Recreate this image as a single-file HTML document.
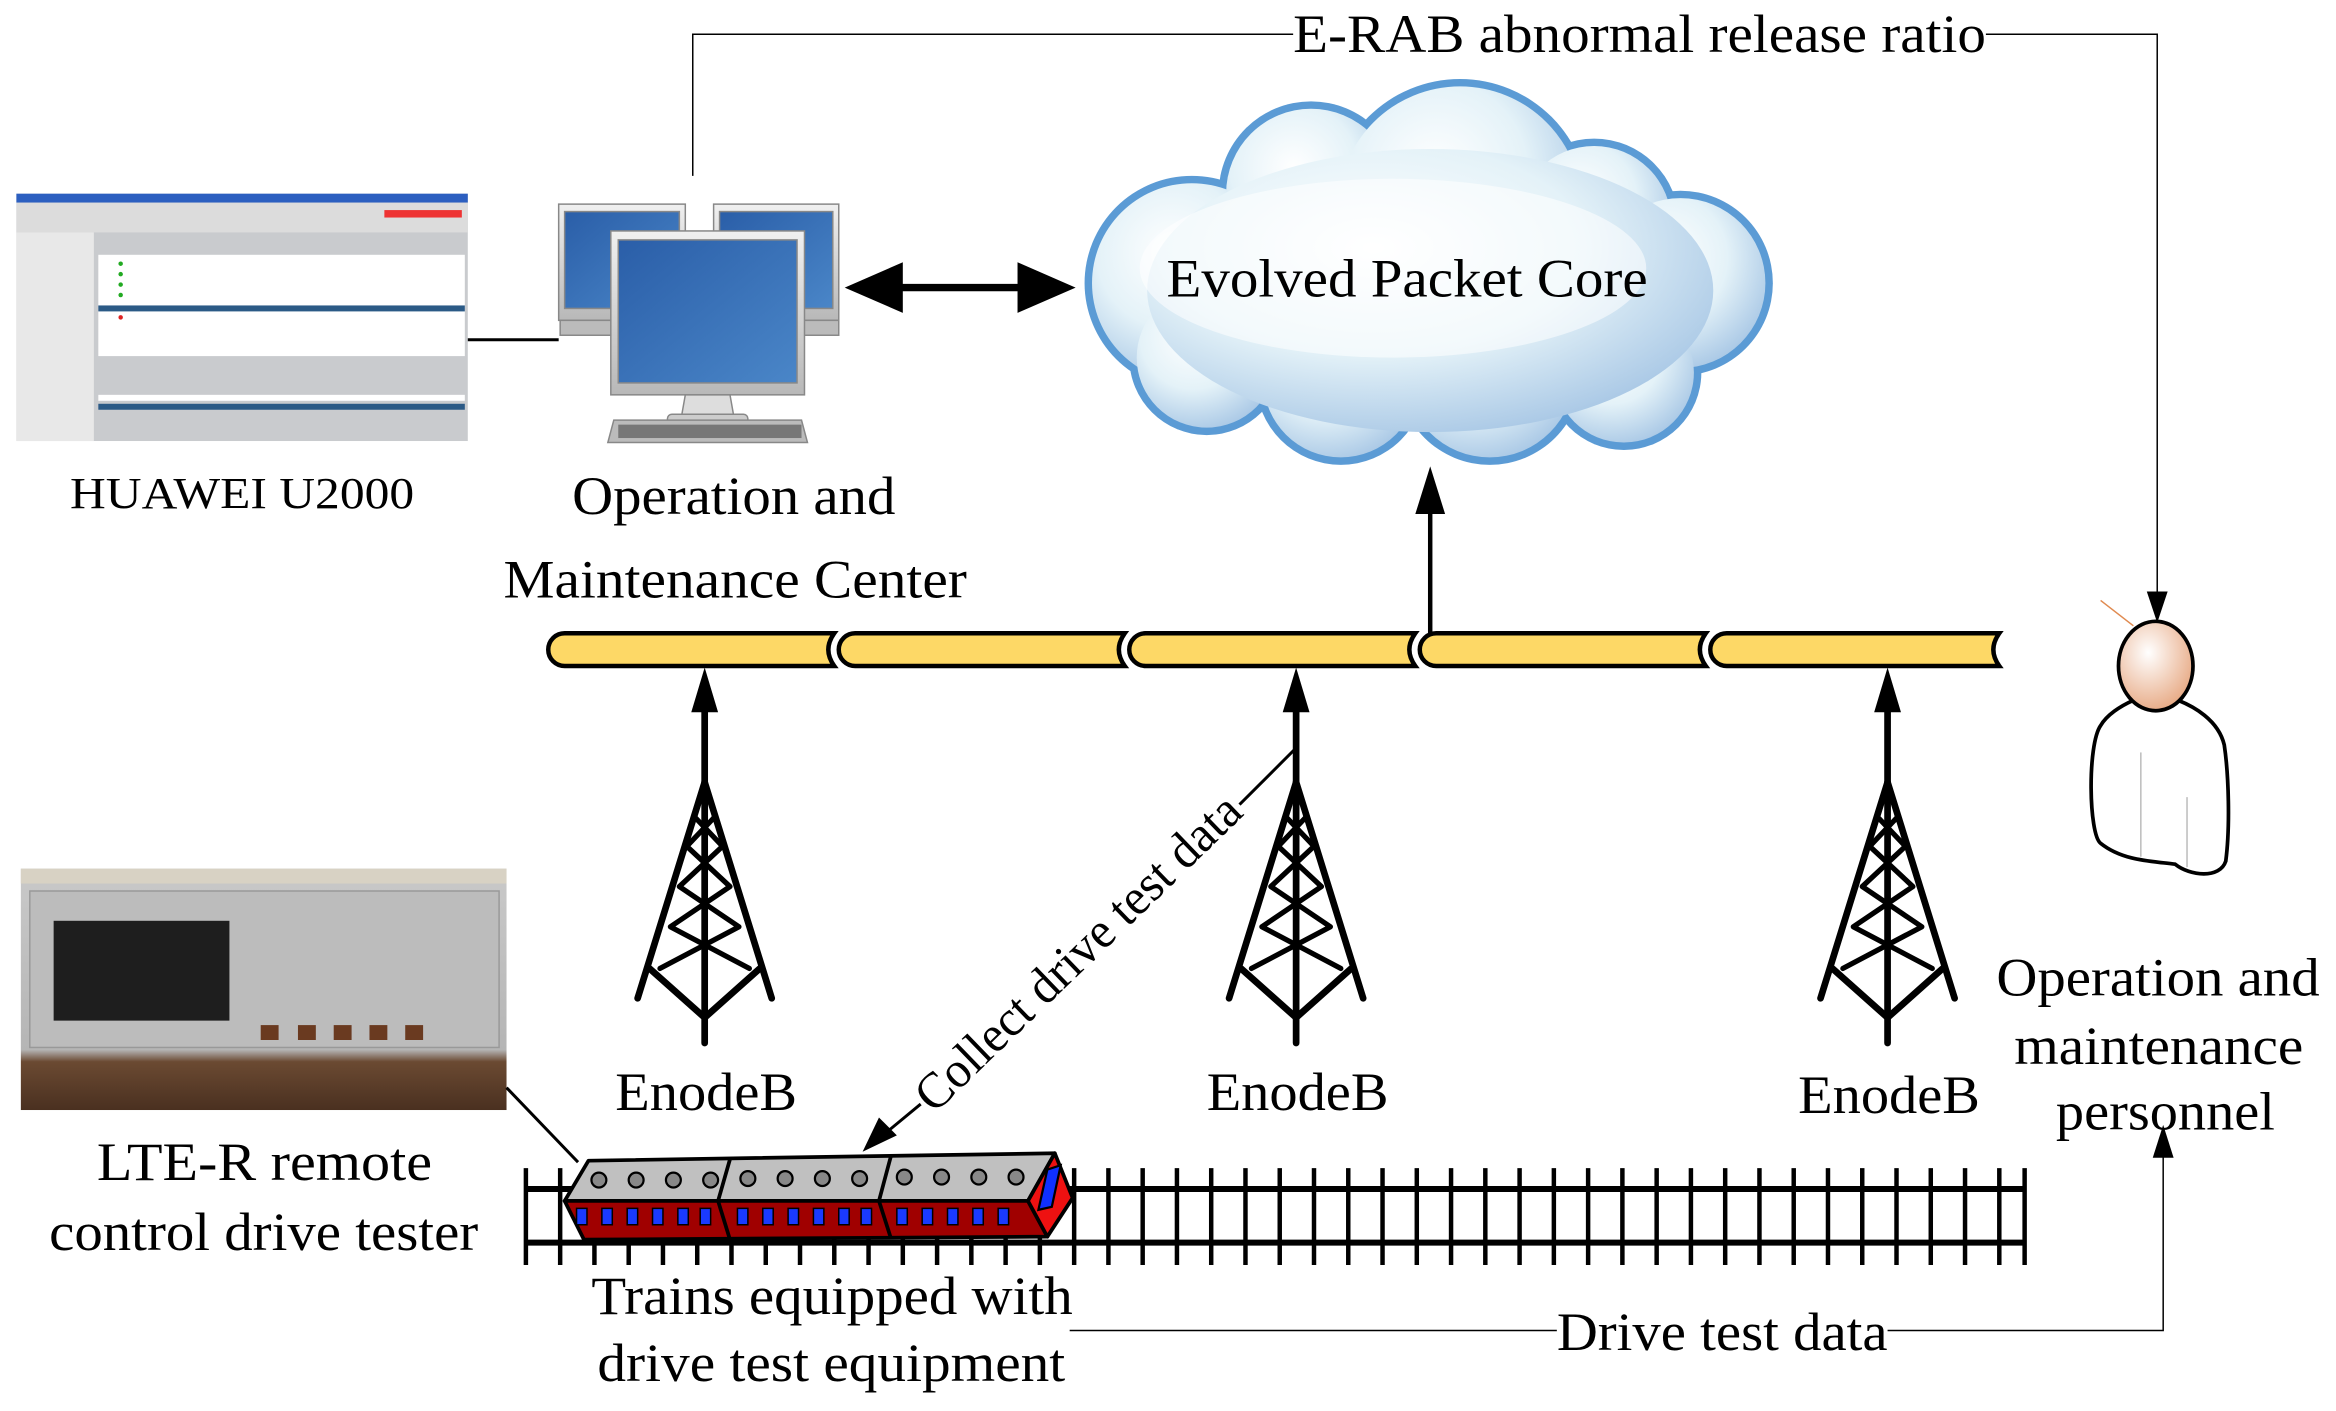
<!DOCTYPE html>
<html><head><meta charset="utf-8"><style>
html,body{margin:0;padding:0;background:#fff;}
svg{display:block;}
text{font-family:"Liberation Serif",serif;fill:#000;}
</style></head><body>
<svg width="2336" height="1411" viewBox="0 0 1568 947" preserveAspectRatio="none" xmlns="http://www.w3.org/2000/svg">
<defs>
<radialGradient id="cg" cx="0.4" cy="0.35" r="0.75">
<stop offset="0" stop-color="#ffffff"/><stop offset="0.5" stop-color="#e4f2f8"/><stop offset="1" stop-color="#9ec0e2"/></radialGradient>
<linearGradient id="scr" x1="0" y1="0" x2="1" y2="1"><stop offset="0" stop-color="#2a5ea8"/><stop offset="1" stop-color="#4a86c8"/></linearGradient>
<linearGradient id="bz" x1="0" y1="0" x2="0" y2="1"><stop offset="0" stop-color="#f0f0f0"/><stop offset="1" stop-color="#b8b8b8"/></linearGradient>
<radialGradient id="hd" cx="0.4" cy="0.35" r="0.8"><stop offset="0" stop-color="#fff"/><stop offset="1" stop-color="#e39a6e"/></radialGradient>
<linearGradient id="ph" x1="0" y1="0" x2="0" y2="1"><stop offset="0" stop-color="#c9c9c9"/><stop offset="0.75" stop-color="#b5b5b5"/><stop offset="0.8" stop-color="#6b4a32"/><stop offset="1" stop-color="#4a3020"/></linearGradient>
</defs>

<polyline points="465,118 465,23 868,23" fill="none" stroke="#000" stroke-width="1"/>
<polyline points="1333,23 1448,23 1448,398" fill="none" stroke="#000" stroke-width="1"/>
<polygon points="1441,397 1455,397 1448,418" fill="#000"/>
<text x="868" y="35" font-size="36" textLength="465" lengthAdjust="spacingAndGlyphs">E-RAB abnormal release ratio</text>

<rect x="11" y="130" width="303" height="166" fill="#c9cbce"/>
<rect x="11" y="130" width="303" height="6" fill="#2c5fc0"/>
<rect x="11" y="136" width="303" height="20" fill="#dcdcdc"/>
<rect x="258" y="141" width="52" height="5" fill="#e33"/>
<rect x="11" y="156" width="52" height="140" fill="#e8e8e8"/>
<rect x="66" y="171" width="246" height="68" fill="#fff"/>
<rect x="66" y="205" width="246" height="4" fill="#2b5a86"/>
<g fill="#2a2"><circle cx="81" cy="177" r="1.5"/><circle cx="81" cy="184" r="1.5"/><circle cx="81" cy="191" r="1.5"/><circle cx="81" cy="198" r="1.5"/></g>
<circle cx="81" cy="213" r="1.5" fill="#d22"/>
<rect x="66" y="265" width="246" height="4" fill="#fff"/>
<rect x="66" y="271" width="246" height="4" fill="#2b5a86"/>

<line x1="314" y1="228" x2="375" y2="228" stroke="#000" stroke-width="2"/>
<text x="47" y="341" font-size="30" textLength="231" lengthAdjust="spacingAndGlyphs">HUAWEI U2000</text>

<g stroke="#888" stroke-width="1">
<rect x="375" y="137" width="85" height="78" fill="url(#bz)"/>
<rect x="379" y="142" width="77" height="65" fill="url(#scr)"/>
<rect x="376" y="215" width="52" height="10" fill="#bbb"/>
<rect x="479" y="137" width="84" height="78" fill="url(#bz)"/>
<rect x="483" y="142" width="76" height="65" fill="url(#scr)"/>
<rect x="515" y="215" width="48" height="10" fill="#bbb"/>
<rect x="410" y="155" width="130" height="110" fill="url(#bz)"/>
<rect x="415" y="161" width="120" height="96" fill="url(#scr)"/>
<path d="M460,265 L490,265 L493,282 L457,282 Z" fill="#ddd"/>
<rect x="448" y="278" width="54" height="7" rx="3" fill="#ccc"/>
<path d="M412,282 L538,282 L542,297 L408,297 Z" fill="#bbb"/>
</g>
<rect x="415" y="285" width="123" height="9" fill="#777"/>

<line x1="590" y1="193" x2="700" y2="193" stroke="#000" stroke-width="5"/>
<polygon points="567,193 606,176 606,210" fill="#000"/>
<polygon points="722,193 683,176 683,210" fill="#000"/>

<text x="384" y="345" font-size="36" textLength="217" lengthAdjust="spacingAndGlyphs">Operation and</text>
<text x="338" y="401" font-size="36" textLength="311" lengthAdjust="spacingAndGlyphs">Maintenance Center</text>

<g fill="#5b9bd5">
<circle cx="800" cy="190" r="72"/><circle cx="880" cy="130" r="62"/><circle cx="980" cy="140" r="87"/>
<circle cx="1070" cy="150" r="57"/><circle cx="1128" cy="190" r="62"/><circle cx="1090" cy="250" r="52"/>
<circle cx="1000" cy="250" r="62"/><circle cx="900" cy="255" r="57"/><circle cx="810" cy="240" r="52"/>
</g>
<g fill="url(#cg)">
<circle cx="800" cy="190" r="67"/><circle cx="880" cy="130" r="57"/><circle cx="980" cy="140" r="82"/>
<circle cx="1070" cy="150" r="52"/><circle cx="1128" cy="190" r="57"/><circle cx="1090" cy="250" r="47"/>
<circle cx="1000" cy="250" r="57"/><circle cx="900" cy="255" r="52"/><circle cx="810" cy="240" r="47"/>
<ellipse cx="960" cy="195" rx="190" ry="95"/>
</g>
<ellipse cx="935" cy="180" rx="170" ry="60" fill="#fff" opacity="0.55"/>
<text x="783" y="199" font-size="36" textLength="323" lengthAdjust="spacingAndGlyphs">Evolved Packet Core</text>

<line x1="960" y1="425" x2="960" y2="340" stroke="#000" stroke-width="3"/>
<polygon points="950,345 970,345 960,313" fill="#000"/>

<g fill="#fdd866" stroke="#000" stroke-width="3">
<path d="M379,425 H560 Q552,436 560,447 H379 A11,11 0 0 1 379,425 Z"/>
<path d="M574,425 H755 Q747,436 755,447 H574 A11,11 0 0 1 574,425 Z"/>
<path d="M769,425 H950 Q942,436 950,447 H769 A11,11 0 0 1 769,425 Z"/>
<path d="M964,425 H1145 Q1137,436 1145,447 H964 A11,11 0 0 1 964,425 Z"/>
<path d="M1159,425 H1342 Q1334,436 1342,447 H1159 A11,11 0 0 1 1159,425 Z"/>
</g>

<g id="tw" stroke="#000" stroke-width="4.5" fill="none" stroke-linecap="round">
<line x1="473" y1="470" x2="473" y2="700"/>
<line x1="473" y1="525" x2="428" y2="670"/><line x1="473" y1="525" x2="518" y2="670"/>
<polyline points="436,650 473,683 510,650"/>
<path d="M466,548 L485,568 M480,548 L461,568 M461,568 L490,595 M485,568 L456,595 M456,595 L496,622 M490,595 L450,622 M450,622 L503,650 M496,622 L443,650" stroke-width="3.5"/>
<polygon points="464,478 482,478 473,448" fill="#000" stroke="none"/>
</g>
<use href="#tw" x="397"/>
<use href="#tw" x="794"/>
<text x="413" y="745" font-size="36" textLength="122" lengthAdjust="spacingAndGlyphs">EnodeB</text>
<text x="810" y="745" font-size="36" textLength="122" lengthAdjust="spacingAndGlyphs">EnodeB</text>
<text x="1207" y="747" font-size="36" textLength="122" lengthAdjust="spacingAndGlyphs">EnodeB</text>

<line x1="869" y1="503" x2="832" y2="540" stroke="#000" stroke-width="2"/>
<line x1="618" y1="741" x2="595" y2="760" stroke="#000" stroke-width="2"/>
<polygon points="579,773 590,750 602,762" fill="#000"/>
<text transform="translate(627,748) rotate(-44)" font-size="34" textLength="290" lengthAdjust="spacingAndGlyphs">Collect drive test data</text>

<rect x="14" y="583" width="326" height="162" fill="url(#ph)"/>
<rect x="14" y="583" width="326" height="10" fill="#d8d2c4"/>
<rect x="20" y="598" width="315" height="105" fill="#bcbcbc" stroke="#999"/>
<rect x="36" y="618" width="118" height="67" fill="#1e1e1e"/>
<g fill="#6a3a20"><rect x="175" y="688" width="12" height="10"/><rect x="200" y="688" width="12" height="10"/><rect x="224" y="688" width="12" height="10"/><rect x="248" y="688" width="12" height="10"/><rect x="272" y="688" width="12" height="10"/></g>
<line x1="340" y1="730" x2="388" y2="780" stroke="#000" stroke-width="2"/>
<text x="65" y="792" font-size="36" textLength="225" lengthAdjust="spacingAndGlyphs">LTE-R remote</text>
<text x="33" y="839" font-size="36" textLength="288" lengthAdjust="spacingAndGlyphs">control drive tester</text>

<g stroke="#000" stroke-width="4">
<line x1="352" y1="798" x2="1360" y2="798"/><line x1="352" y1="834" x2="1360" y2="834"/>
</g>
<g stroke="#000" stroke-width="3">
<path d="M353,784V849M376,784V849M399,784V849M422,784V849M445,784V849M468,784V849M491,784V849M514,784V849M537,784V849M560,784V849M583,784V849M606,784V849M629,784V849M652,784V849M675,784V849M698,784V849M721,784V849M744,784V849M767,784V849M790,784V849M813,784V849M836,784V849M859,784V849M882,784V849M905,784V849M928,784V849M951,784V849M974,784V849M997,784V849M1020,784V849M1043,784V849M1066,784V849M1089,784V849M1112,784V849M1135,784V849M1158,784V849M1181,784V849M1204,784V849M1227,784V849M1250,784V849M1273,784V849M1296,784V849M1319,784V849M1342,784V849M1359,784V849"/>
</g>

<g stroke="#000" stroke-width="2.5" stroke-linejoin="round">
<polygon points="395,779 708,774 690,806 379,806" fill="#c0c0c0"/>
<polygon points="379,806 690,806 703,830 392,832" fill="#a00000"/>
<polygon points="708,774 720,804 703,830 690,806" fill="#ee1111"/>
<line x1="490" y1="778" x2="482" y2="806"/><line x1="598" y1="776" x2="590" y2="806"/>
<line x1="482" y1="806" x2="490" y2="832"/><line x1="590" y1="806" x2="598" y2="831"/>
</g>
<polygon points="703,785 712,782 706,810 697,812" fill="#1030ff" stroke="#000" stroke-width="1.5"/>
<g fill="#1a3aff" stroke="#000" stroke-width="1">
<rect x="387" y="811" width="7" height="11"/><rect x="404" y="811" width="7" height="11"/><rect x="421" y="811" width="7" height="11"/><rect x="438" y="811" width="7" height="11"/><rect x="455" y="811" width="7" height="11"/><rect x="470" y="811" width="7" height="11"/>
<rect x="495" y="811" width="7" height="11"/><rect x="512" y="811" width="7" height="11"/><rect x="529" y="811" width="7" height="11"/><rect x="546" y="811" width="7" height="11"/><rect x="563" y="811" width="7" height="11"/><rect x="578" y="811" width="7" height="11"/>
<rect x="602" y="811" width="7" height="11"/><rect x="619" y="811" width="7" height="11"/><rect x="636" y="811" width="7" height="11"/><rect x="653" y="811" width="7" height="11"/><rect x="670" y="811" width="7" height="11"/>
</g>
<g fill="#888" stroke="#000" stroke-width="1.5">
<circle cx="402" cy="792" r="5"/><circle cx="427" cy="792" r="5"/><circle cx="452" cy="792" r="5"/><circle cx="477" cy="792" r="5"/>
<circle cx="502" cy="791" r="5"/><circle cx="527" cy="791" r="5"/><circle cx="552" cy="791" r="5"/><circle cx="577" cy="791" r="5"/>
<circle cx="607" cy="790" r="5"/><circle cx="632" cy="790" r="5"/><circle cx="657" cy="790" r="5"/><circle cx="682" cy="790" r="5"/>
</g>

<text x="397" y="882" font-size="36" textLength="323" lengthAdjust="spacingAndGlyphs">Trains equipped with</text>
<text x="401" y="927" font-size="36" textLength="314" lengthAdjust="spacingAndGlyphs">drive test equipment</text>

<line x1="718" y1="893" x2="1045" y2="893" stroke="#000" stroke-width="1"/>
<polyline points="1267,893 1452,893 1452,775" fill="none" stroke="#000" stroke-width="1"/>
<polygon points="1445,777 1459,777 1452,755" fill="#000"/>
<text x="1045" y="906" font-size="36" textLength="222" lengthAdjust="spacingAndGlyphs">Drive test data</text>

<line x1="1410" y1="403" x2="1432" y2="420" stroke="#e08a50" stroke-width="1"/>
<path d="M1410,487 C1401,500 1402,560 1410,566 C1425,578 1445,578 1460,580 C1470,588 1490,590 1494,578 C1497,555 1496,520 1493,500 C1489,483 1472,474 1462,470 L1432,470 C1423,474 1414,480 1410,487 Z" fill="#fff" stroke="#000" stroke-width="2.5"/>
<line x1="1437" y1="505" x2="1437" y2="575" stroke="#bbb" stroke-width="1"/>
<line x1="1468" y1="535" x2="1468" y2="582" stroke="#bbb" stroke-width="1"/>
<ellipse cx="1447" cy="447" rx="25" ry="30" fill="url(#hd)" stroke="#000" stroke-width="2.5"/>
<text x="1340" y="668" font-size="36" textLength="217" lengthAdjust="spacingAndGlyphs">Operation and</text>
<text x="1352" y="714" font-size="36" textLength="194" lengthAdjust="spacingAndGlyphs">maintenance</text>
<text x="1380" y="758" font-size="36" textLength="147" lengthAdjust="spacingAndGlyphs">personnel</text>
</svg>
</body></html>
